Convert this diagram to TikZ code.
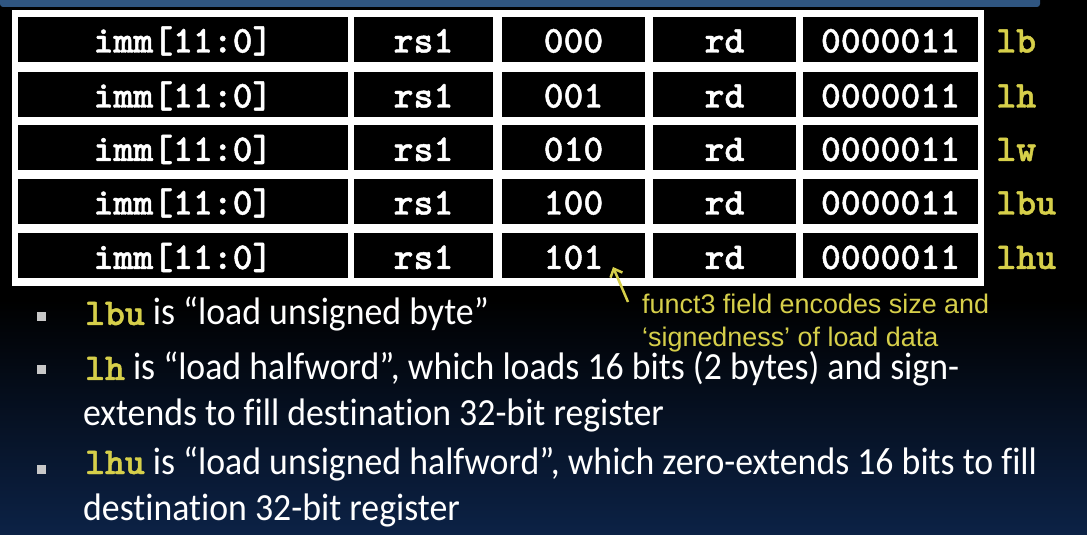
\documentclass[tikz,border=0pt]{standalone}
\usepackage{fontspec}
\newfontfamily\bodyfnt{Carlito}[FakeStretch=0.933, Ligatures=NoCommon]
\newfontfamily\notefnt{Liberation Sans}
\newfontfamily\codefnt{lmmonolt10-bold.otf}[FakeBold=1.2]
\usetikzlibrary{arrows.meta,positioning}
\definecolor{codeyellow}{RGB}{214,207,74}
\definecolor{bgnavy}{RGB}{12,34,70}
\definecolor{barblue}{RGB}{47,85,128}
\definecolor{bulletgray}{RGB}{200,200,200}
\newcommand\ins[1]{{\color{codeyellow}\fontsize{38}{44}\codefnt #1}}
\tikzset{
    >={Straight Barb[length=7bp,width=13bp]},
    cell/.style={
           rectangle,
           fill=black,
           inner sep=0pt,
           text=white,
           minimum height=45bp,
           text height=26bp,
           text depth=0pt,
           font=\fontsize{38}{44}\codefnt},
    mnem/.style={
           inner sep=0pt,
           text=codeyellow,
           text height=26bp,
           text depth=0pt,
           font=\fontsize{38}{44}\codefnt},
    sq/.style={
           rectangle,
           fill=bulletgray,
           minimum size=9bp,
           inner sep=0pt},
    line/.style={
           anchor=base west,
           inner sep=0pt,
           text=white,
           font=\fontsize{38.5}{45}\bodyfnt},
    pil/.style={
           ->,
           draw=codeyellow,
           line width=2.5bp}
}

\begin{document}
\begin{tikzpicture}[x=1bp,y=-1bp]
          \def \wimm {330bp}
          \def \wrs {139bp}
          \def \wf {143bp}
          \def \wop {175bp}
          \useasboundingbox (0,0) rectangle (1087,535);
          % background
          \fill[black] (0,0) rectangle (1087,535);
          \shade[top color=black, bottom color=bgnavy] (0,300) rectangle (1087,535);
          \fill[barblue, rounded corners=3bp] (0,-4) rectangle (1040,7);
          \fill[white] (12,10) rectangle (984,286);
          % lb
          \node[cell, minimum width=\wimm](lb-imm) at (183,39.5) {imm[11:0]};
          \node[cell, minimum width=\wrs](lb-rs) at (423.5,39.5) {rs1};
          \node[cell, minimum width=\wf](lb-f3) at (573.5,39.5) {000};
          \node[cell, minimum width=\wf](lb-rd) at (724.5,39.5) {rd};
          \node[cell, minimum width=\wop](lb-op) at (890.5,39.5) {0000011};
          \node[mnem, right=18bp of lb-op](lb) {lb};
          % lh
          \node[cell, minimum width=\wimm](lh-imm) at (183,94.5) {imm[11:0]};
          \node[cell, minimum width=\wrs](lh-rs) at (423.5,94.5) {rs1};
          \node[cell, minimum width=\wf](lh-f3) at (573.5,94.5) {001};
          \node[cell, minimum width=\wf](lh-rd) at (724.5,94.5) {rd};
          \node[cell, minimum width=\wop](lh-op) at (890.5,94.5) {0000011};
          \node[mnem, right=18bp of lh-op](lh) {lh};
          % lw
          \node[cell, minimum width=\wimm](lw-imm) at (183,148) {imm[11:0]};
          \node[cell, minimum width=\wrs](lw-rs) at (423.5,148) {rs1};
          \node[cell, minimum width=\wf](lw-f3) at (573.5,148) {010};
          \node[cell, minimum width=\wf](lw-rd) at (724.5,148) {rd};
          \node[cell, minimum width=\wop](lw-op) at (890.5,148) {0000011};
          \node[mnem, right=18bp of lw-op](lw) {lw};
          % lbu
          \node[cell, minimum width=\wimm](lbu-imm) at (183,201.5) {imm[11:0]};
          \node[cell, minimum width=\wrs](lbu-rs) at (423.5,201.5) {rs1};
          \node[cell, minimum width=\wf](lbu-f3) at (573.5,201.5) {100};
          \node[cell, minimum width=\wf](lbu-rd) at (724.5,201.5) {rd};
          \node[cell, minimum width=\wop](lbu-op) at (890.5,201.5) {0000011};
          \node[mnem, right=18bp of lbu-op](lbu) {lbu};
          % lhu
          \node[cell, minimum width=\wimm](lhu-imm) at (183,256) {imm[11:0]};
          \node[cell, minimum width=\wrs](lhu-rs) at (423.5,256) {rs1};
          \node[cell, minimum width=\wf](lhu-f3) at (573.5,256) {101};
          \node[cell, minimum width=\wf](lhu-rd) at (724.5,256) {rd};
          \node[cell, minimum width=\wop](lhu-op) at (890.5,256) {0000011};
          \node[mnem, right=18bp of lhu-op](lhu) {lhu};
          % funct3 note
          \node[anchor=north west, inner sep=0pt, align=left, text=codeyellow,
                font=\fontsize{27}{33}\notefnt](note) at (642,294)
                {funct3 field encodes size and\\‘signedness’ of load data};
          \coordinate (tail) at (628,302);
          \coordinate (tip) at (613,267);
          \draw[pil] (tail) -- (tip);
          % bullets
          \node[sq](b1) at (41.5,317) {};
          \node[sq](b2) at (41.5,370) {};
          \node[sq](b3) at (41.5,469) {};
          \node[line](t1) at (85,325) {\ins{lbu} is “load unsigned byte”};
          \node[line](t2) at (85,380) {\ins{lh} is “load halfword”, which loads 16 bits (2 bytes) and sign-};
          \node[line](t2b) at (83,425) {extends to fill destination 32-bit register};
          \node[line](t3) at (85,474) {\ins{lhu} is “load unsigned halfword”, which zero-extends 16 bits to fill};
          \node[line](t3b) at (83,520) {destination 32-bit register};
\end{tikzpicture}
\end{document}
